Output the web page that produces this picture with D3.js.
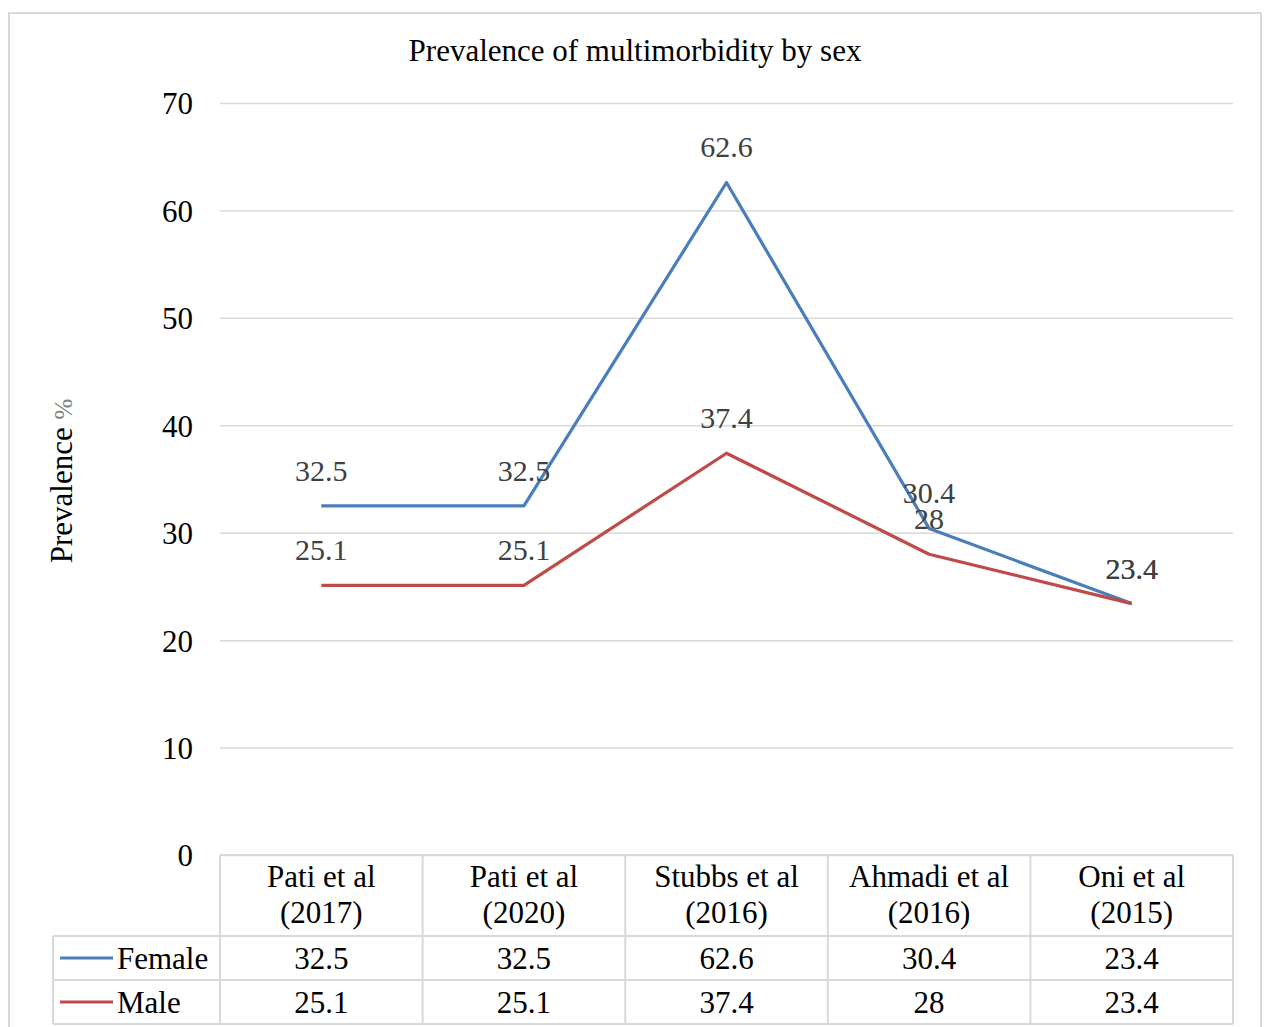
<!DOCTYPE html>
<html>
<head>
<meta charset="utf-8">
<script src="https://cdn.jsdelivr.net/npm/d3@7"></script>
<style>
  body { margin: 0; background: #fff; }
  svg text { font-family: "Liberation Serif", "Times New Roman", serif; }
</style>
</head>
<body>
<div id="chart"></div>
<script>
// chart data
var studies = ["Pati et al|(2017)", "Pati et al|(2020)", "Stubbs et al|(2016)", "Ahmadi et al|(2016)", "Oni et al|(2015)"];
var female = [32.5, 32.5, 62.6, 30.4, 23.4];
var male = [25.1, 25.1, 37.4, 28, 23.4];
var yTicks = [0, 10, 20, 30, 40, 50, 60, 70];
var seriesNames = ["Female", "Male"];
var seriesColors = ["#4a7ebb", "#be4b48"];

var W = 1264, H = 1027;
var margin = { top: 103, right: 31, left: 220 },
    plotBottom = 855;

var svg = d3.select("#chart")
    .append("svg")
    .attr("width", W)
    .attr("height", H);

// outer chart border
svg.append("rect")
    .attr("x", 9).attr("y", 13)
    .attr("width", 1252).attr("height", 1040)
    .attr("fill", "none")
    .attr("stroke", "#d9d9d9")
    .attr("stroke-width", 2);

svg.append("text")
    .attr("x", 635).attr("y", 61)
    .attr("text-anchor", "middle")
    .style("font-size", "31px")
    .style("fill", "#000")
    .text("Prevalence of multimorbidity by sex");

var x = d3.scaleBand()
    .domain(studies)
    .range([margin.left, W - margin.right]);

var y = d3.scaleLinear()
    .domain([0, 70])
    .range([plotBottom, margin.top]);

// gridlines + y labels
var yAxis = svg.append("g")
    .attr("transform", "translate(" + margin.left + ",0)")
    .call(d3.axisLeft(y).tickValues(yTicks).tickSize(-(W - margin.right - margin.left)).tickFormat(d3.format("d")));

yAxis.select(".domain").remove();
yAxis.selectAll(".tick line")
    .attr("stroke", "#d9d9d9")
    .attr("stroke-width", 1.5);
yAxis.selectAll(".tick text")
    .attr("x", -27)
    .attr("dy", "0.35em")
    .style("font-size", "31px")
    .style("fill", "#000");

// y axis title
var yTitle = svg.append("text")
    .attr("transform", "translate(72,481) rotate(-90)")
    .attr("text-anchor", "middle")
    .style("font-size", "31px");
yTitle.append("tspan").style("fill", "#000").text("Prevalence ");
yTitle.append("tspan").style("fill", "#7f7f7f").style("font-size", "25px").text("%");

// lines
var allSeries = [female, male];
var line = d3.line()
    .x((d, i) => x(studies[i]) + x.bandwidth() / 2)
    .y(d => y(d));

allSeries.forEach(function(vals, s) {
    svg.append("path")
        .datum(vals)
        .attr("d", line)
        .attr("fill", "none")
        .attr("stroke", seriesColors[s])
        .attr("stroke-width", 3.2)
        .attr("stroke-linejoin", "round");
});

// data labels
allSeries.forEach(function(vals) {
    svg.selectAll(null)
        .data(vals)
        .enter()
        .append("text")
        .attr("x", (d, i) => x(studies[i]) + x.bandwidth() / 2)
        .attr("y", d => y(d) - 25)
        .attr("text-anchor", "middle")
        .style("font-size", "30px")
        .style("fill", "#404040")
        .text(d => d);
});

// data table
var headerBottom = 936, rowH = 44, legendLeft = 53;
var tableRight = W - margin.right;
var tbl = svg.append("g").attr("class", "data-table");

function hline(x1, x2, yy) {
    tbl.append("line").attr("x1", x1).attr("x2", x2).attr("y1", yy).attr("y2", yy)
        .attr("stroke", "#d9d9d9").attr("stroke-width", 2);
}
function vline(xx, y1, y2) {
    tbl.append("line").attr("x1", xx).attr("x2", xx).attr("y1", y1).attr("y2", y2)
        .attr("stroke", "#d9d9d9").attr("stroke-width", 2);
}

hline(margin.left, tableRight, plotBottom);
hline(legendLeft, tableRight, headerBottom);
hline(legendLeft, tableRight, headerBottom + rowH);
hline(legendLeft, tableRight, headerBottom + 2 * rowH);
vline(legendLeft, headerBottom, headerBottom + 2 * rowH);
studies.forEach(function(s) { vline(x(s), plotBottom, headerBottom + 2 * rowH); });
vline(tableRight, plotBottom, headerBottom + 2 * rowH);

// header labels
studies.forEach(function(s) {
    var parts = s.split("|");
    var t = tbl.append("text")
        .attr("text-anchor", "middle")
        .style("font-size", "31px")
        .style("fill", "#000");
    parts.forEach(function(p, k) {
        t.append("tspan")
            .attr("x", x(s) + x.bandwidth() / 2)
            .attr("y", 887 + k * 36)
            .text(p);
    });
});

// series rows
allSeries.forEach(function(vals, r) {
    var rowMid = headerBottom + rowH * r + rowH / 2;
    tbl.append("line")
        .attr("x1", 60).attr("x2", 113)
        .attr("y1", rowMid).attr("y2", rowMid)
        .attr("stroke", seriesColors[r])
        .attr("stroke-width", 3.2);
    tbl.append("text")
        .attr("x", 117).attr("y", rowMid + 11)
        .style("font-size", "31px")
        .style("fill", "#000")
        .text(seriesNames[r]);
    vals.forEach(function(v, i) {
        tbl.append("text")
            .attr("x", x(studies[i]) + x.bandwidth() / 2)
            .attr("y", rowMid + 11)
            .attr("text-anchor", "middle")
            .style("font-size", "31px")
            .style("fill", "#000")
            .text(v);
    });
});
</script>
</body>
</html>
